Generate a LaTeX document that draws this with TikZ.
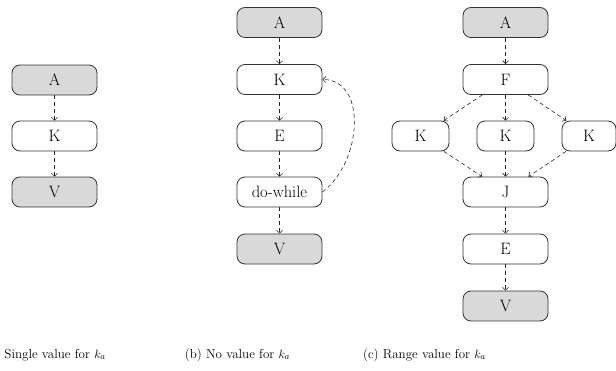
\documentclass[tikz,border=0pt]{standalone}
\usetikzlibrary{arrows.meta}
\begin{document}
\begin{tikzpicture}[x=1pt,y=-1pt,
  box/.style={draw=black!80, line width=0.8pt, rounded corners=8pt, minimum width=85pt, minimum height=30pt, inner sep=0pt, font=\fontsize{16.5}{19}\selectfont},
  gbox/.style={box, fill=black!15},
  kbox/.style={box, minimum width=57pt},
  flow/.style={dashed, dash pattern=on 4pt off 3pt, line width=0.6pt, black!85, -{Straight Barb[length=3pt,width=6pt]}},
  captext/.style={font=\fontsize{13}{15}\selectfont, inner sep=0pt}]
\useasboundingbox (0,0) rectangle (616,370);
% (a)
\node[gbox] (aA) at (54.5,80) {A};
\node[box] (aK) at (54.5,136) {K};
\node[gbox] (aV) at (54.5,192) {V};
\draw[flow] (aA) -- (aK);
\draw[flow] (aK) -- (aV);
% (b)
\node[gbox] (bA) at (279.5,22.5) {A};
\node[box] (bK) at (279.5,79.5) {K};
\node[box] (bE) at (279.5,136) {E};
\node[box] (bD) at (279.5,192) {do-while};
\node[gbox] (bV) at (279.5,249) {V};
\draw[flow] (bA) -- (bK);
\draw[flow] (bK) -- (bE);
\draw[flow] (bE) -- (bD);
\draw[flow] (bD) -- (bV);
\draw[flow] (bD.east) .. controls +(40,-30) and +(45,0) .. (bK.east);
% (c)
\node[gbox] (cA) at (505.5,22.5) {A};
\node[box] (cF) at (505.5,79.5) {F};
\node[kbox] (cK1) at (420.5,136) {K};
\node[kbox] (cK2) at (505.5,136) {K};
\node[kbox, minimum width=54pt] (cK3) at (589,136) {K};
\node[box] (cJ) at (505.5,192) {J};
\node[box] (cE) at (505.5,249) {E};
\node[gbox] (cV) at (505.5,306) {V};
\draw[flow] (cA) -- (cF);
\draw[flow] (cF) -- (cK1);
\draw[flow] (cF) -- (cK2);
\draw[flow] (cF) -- (cK3);
\draw[flow] (cK1) -- (cJ);
\draw[flow] (cK2) -- (cJ);
\draw[flow] (cK3) -- (cJ);
\draw[flow] (cJ) -- (cE);
\draw[flow] (cE) -- (cV);
% captions
\node[captext, anchor=base east] (capa) at (106,358) {Single value for $k_a$};
\node[captext, anchor=base] (capb) at (237.5,358) {(b) No value for $k_a$};
\node[captext, anchor=base] (capc) at (424.5,358) {(c) Range value for $k_a$};
\end{tikzpicture}
\end{document}
